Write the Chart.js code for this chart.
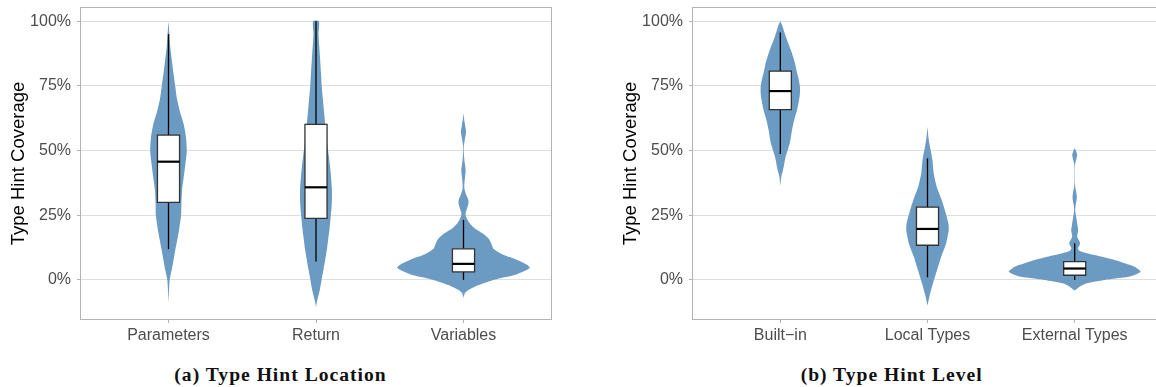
<!DOCTYPE html>
<html>
<head>
<meta charset="utf-8">
<script src="https://cdn.jsdelivr.net/npm/chart.js@4.4.0/dist/chart.umd.min.js"></script>
<style>
  html, body { margin: 0; padding: 0; background: #fff; }
  body { width: 1156px; height: 387px; overflow: hidden; position: relative; }
  .panel { position: absolute; top: 0; height: 345px; }
  #panelA { left: 0; width: 560px; }
  #panelB { left: 600px; width: 570px; }
  .caption {
    position: absolute; top: 365px; line-height: 20px;
    font-family: "Liberation Serif", "Times New Roman", serif;
    font-weight: bold; font-size: 19.6px; letter-spacing: 1px;
    color: #111; white-space: nowrap; transform: translateX(-50%);
  }
</style>
</head>
<body>
<div class="panel" id="panelA"><canvas id="chartA"></canvas></div>
<div class="panel" id="panelB"><canvas id="chartB"></canvas></div>
<div class="caption" style="left:280.5px">(a) Type Hint Location</div>
<div class="caption" style="left:891.7px">(b) Type Hint Level</div>

<script>
// ---- categories and axis ticks ----
const locationCategories = ['Parameters', 'Return', 'Variables'];
const levelCategories = ['Built\u2212in', 'Local Types', 'External Types'];
const coverageTicks = [0, 25, 50, 75, 100];

// ---- box-plot summaries (coverage, %) ----
const locationLower  = [11.9, 7.1, 0];
const locationQ1     = [30.0, 23.8, 3.1];
const locationMedian = [45.7, 35.8, 6.2];
const locationQ3     = [56.0, 60.1, 12.0];
const locationUpper  = [95.0, 100, 23.2];

const levelLower  = [48.7, 1.0, 0];
const levelQ1     = [65.8, 13.4, 1.8];
const levelMedian = [73.0, 19.7, 4.4];
const levelQ3     = [80.7, 28.1, 7.1];
const levelUpper  = [95.6, 47.0, 14.2];

// ---- violin density profiles: coverage levels and relative density ----
const parametersY = [-9,-5,-2,0,2,4,8,12,16,20,25,30,35,40,45,50,55,60,65,70,75,80,85,90,95,100];
const parametersDensity = [0,.006,.012,.018,.033,.05,.078,.106,.136,.163,.19,.195,.205,.231,.256,.276,.264,.231,.173,.128,.101,.075,.05,.027,.014,0];

const returnY = [-10.5,-8,-4,0,4,8,12,16,20,24,28,32,36,40,44,48,52,56,60,65,70,75,80,85,90,95,100];
const returnDensity = [0,.018,.056,.084,.113,.14,.166,.185,.205,.22,.234,.241,.238,.226,.211,.193,.173,.155,.14,.121,.103,.087,.075,.063,.05,.038,.045];

const variablesY = [-7,-5,-4,-2,0,2,4,4.8,6,8,10,12,14,16,18,20,22,23.5,25.5,27.5,29.5,31,33,35,36.5,39,42.5,46,49,51.5,54,57.3,60,62.5,64.5];
const variablesDensity = [0,.023,.068,.226,.45,.784,.965,1,.95,.784,.573,.452,.42,.377,.287,.166,.09,.053,.03,.053,.075,.072,.038,.015,.012,.02,.033,.015,.006,.005,.018,.039,.023,.008,0];

const builtinY = [36.5,40,42.5,45,47.6,50,52.8,55,57.9,60,63,66,69.5,72,74.7,78,81,84,86.3,89,91.4,94,96.6,98.5,100];
const builtinDensity = [0,.015,.041,.06,.08,.11,.143,.158,.176,.193,.222,.256,.283,.296,.297,.274,.244,.219,.193,.158,.121,.083,.05,.027,0];

const localY = [-10,-7.5,-5.1,-1.3,3.9,9,14.2,19.3,22,25.8,30.9,36,41.2,46.4,51.5,55,59.2];
const localDensity = [0,.02,.042,.083,.146,.208,.282,.321,.314,.276,.214,.139,.094,.075,.038,.015,0];

const externalY = [-4.1,-2.6,-1.3,0,1.3,3.2,5.1,7.7,10.3,11.3,12.2,13.2,14.2,15.5,16.7,18,19.3,21,23.2,25,27,29,30.5,32.2,34,36,38,41,44.4,46.5,48.3,50,50.9];
const externalDensity = [0,.075,.181,.452,.829,.995,.905,.603,.19,.07,.05,.068,.083,.06,.038,.045,.053,.042,.03,.018,.008,.015,.027,.033,.023,.008,.003,.003,.005,.023,.038,.018,0];

// ---- drawing parameters ----
const VIOLIN_HALF = 0.45;   // half of the widest violin, in category units
const BOX_HALF = 0.075;     // half box width, in category units
const VIOLIN_FILL = '#6b9bc3';
const GRID = '#dedede';
const FRAME = '#b3b3b3';
const TICK_TEXT = '#4d4d4d';

Chart.defaults.font.family = '"Liberation Sans", Arial, Helvetica, sans-serif';

function violinOutline(pos, ys, dens) {
  const right = ys.map((y, i) => ({ x: pos + dens[i] * VIOLIN_HALF, y }));
  const left = ys.map((y, i) => ({ x: pos - dens[i] * VIOLIN_HALF, y })).reverse();
  return right.concat(left);
}

function buildDatasets(profiles, lower, q1, median, q3, upper) {
  const sets = [];
  profiles.forEach((p, i) => {
    const pos = i + 1;
    sets.push({
      data: violinOutline(pos, p[0], p[1]),
      showLine: true, fill: 'shape', tension: 0.2,
      backgroundColor: VIOLIN_FILL, borderColor: 'rgba(0,0,0,0)', borderWidth: 0,
      pointRadius: 0, order: 4
    });
    sets.push({
      data: [{ x: pos, y: lower[i] }, { x: pos, y: upper[i] }],
      showLine: true, fill: false, borderColor: '#000', borderWidth: 1.3,
      pointRadius: 0, order: 3
    });
    sets.push({
      data: [
        { x: pos - BOX_HALF, y: q1[i] }, { x: pos + BOX_HALF, y: q1[i] },
        { x: pos + BOX_HALF, y: q3[i] }, { x: pos - BOX_HALF, y: q3[i] },
        { x: pos - BOX_HALF, y: q1[i] }
      ],
      showLine: true, fill: 'shape', backgroundColor: '#fff',
      borderColor: '#333', borderWidth: 1.3, borderCapStyle: 'square',
      borderJoinStyle: 'miter', tension: 0, pointRadius: 0, order: 2
    });
    sets.push({
      data: [{ x: pos - BOX_HALF, y: median[i] }, { x: pos + BOX_HALF, y: median[i] }],
      showLine: true, fill: false, borderColor: '#000', borderWidth: 2.2,
      pointRadius: 0, order: 1
    });
  });
  return sets;
}

const panelFrame = {
  id: 'panelFrame',
  afterDatasetsDraw(chart) {
    const { ctx, chartArea: a } = chart;
    ctx.save();
    ctx.strokeStyle = FRAME;
    ctx.lineWidth = 1;
    const l = Math.round(a.left) + 0.5, t = Math.round(a.top) + 0.5;
    const r = Math.round(a.right) - 0.5, b = Math.round(a.bottom) - 0.5;
    ctx.strokeRect(l, t, r - l, b - t);
    ctx.restore();
  }
};

function makeChart(canvasId, categories, datasets, padLeft, padRight) {
  return new Chart(document.getElementById(canvasId), {
    type: 'scatter',
    data: { datasets },
    plugins: [panelFrame],
    options: {
      responsive: true, maintainAspectRatio: false, animation: false, events: [],
      layout: { padding: { top: 7, bottom: 0, left: padLeft, right: padRight } },
      plugins: { legend: { display: false }, tooltip: { enabled: false } },
      scales: {
        x: {
          type: 'linear', min: 0.4, max: 3.6,
          afterBuildTicks: (s) => { s.ticks = categories.map((_, i) => ({ value: i + 1 })); },
          afterFit: (s) => { s.height = 25; s.paddingLeft = 0; s.paddingRight = 0; },
          ticks: {
            callback: (v) => categories[Math.round(v) - 1],
            color: TICK_TEXT, font: { size: 16 }, padding: 3,
            autoSkip: false, maxRotation: 0
          },
          grid: { drawOnChartArea: false, drawTicks: true, tickLength: 3, color: FRAME },
          border: { display: false }
        },
        y: {
          type: 'linear', min: -15.5, max: 105.5,
          afterBuildTicks: (s) => { s.ticks = coverageTicks.map(v => ({ value: v })); },
          afterFit: (s) => { s.width = 80; s.paddingTop = 0; s.paddingBottom = 0; },
          ticks: {
            callback: (v) => v + '%',
            color: TICK_TEXT, font: { size: 16 }, padding: 6
          },
          grid: { color: GRID, lineWidth: 1, tickColor: FRAME, tickLength: 3 },
          border: { display: false },
          title: {
            display: true, text: 'Type Hint Coverage', color: '#000',
            font: { size: 18.5 }, padding: { top: 8, bottom: 0 }
          }
        }
      }
    }
  });
}

makeChart('chartA', locationCategories,
  buildDatasets(
    [[parametersY, parametersDensity], [returnY, returnDensity], [variablesY, variablesDensity]],
    locationLower, locationQ1, locationMedian, locationQ3, locationUpper),
  0, 8);

makeChart('chartB', levelCategories,
  buildDatasets(
    [[builtinY, builtinDensity], [localY, localDensity], [externalY, externalDensity]],
    levelLower, levelQ1, levelMedian, levelQ3, levelUpper),
  12, 7);
</script>
</body>
</html>
